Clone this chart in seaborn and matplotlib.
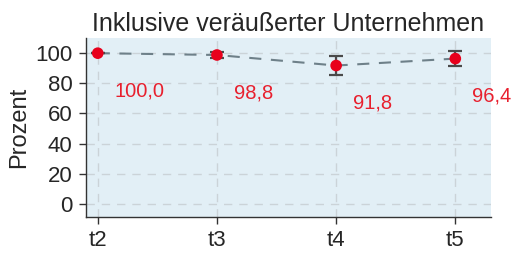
import pandas as pd
import seaborn as sns
import matplotlib.pyplot as plt

# Werte
zeitpunkte = ['t2', 't3', 't4', 't5']
prozent = [100.0, 98.8, 91.8, 96.4]
fehler = [0.0, 2.0, 6.6, 5.0]
beschriftung = ['100,0', '98,8', '91,8', '96,4']

df = pd.DataFrame({'zeit': zeitpunkte, 'prozent': prozent, 'fehler': fehler})
df['pos'] = range(len(df))

sns.set_style('ticks')
plt.rcParams['font.family'] = ['Liberation Sans', 'DejaVu Sans']

fig, ax = plt.subplots(figsize=(5.11, 2.54), dpi=100)
ax.set_facecolor('#e2eff6')

sns.lineplot(data=df, x='pos', y='prozent', ax=ax, color='#6e8089',
             linestyle=(0, (5.8, 4.6)), linewidth=1.5, zorder=2)
ax.errorbar(df['pos'], df['prozent'], yerr=df['fehler'], fmt='none',
            ecolor='#4a4a4a', elinewidth=1.6, capsize=4.8, capthick=1.6, zorder=3)
sns.scatterplot(data=df, x='pos', y='prozent', ax=ax, color='#e8001c',
                s=70, edgecolor='none', zorder=4)

# Beschriftungen unter den Punkten
for i, (v, t) in enumerate(zip(prozent, beschriftung)):
    ax.text(i + 0.14, v - 25, t, color='#e8202e', fontsize=14.5,
            ha='left', va='center', clip_on=False)

ax.set_xticks(df['pos'])
ax.set_xticklabels(zeitpunkte)
ax.set_yticks([0, 20, 40, 60, 80, 100])
ax.set_xlim(-0.1, 3.3)
ax.set_ylim(-8.6, 110)
ax.grid(True, color='#cbd3d8', linestyle=(0, (6, 5)), linewidth=1.0)
ax.set_axisbelow(True)
ax.tick_params(labelsize=16, length=5, width=1.0, color='#333333', pad=4.5)
ax.set_xlabel('')
ax.set_ylabel('Prozent', fontsize=17, labelpad=4)
ax.set_title('Inklusive veräußerter Unternehmen', fontsize=18, pad=5)
for s in ['top', 'right']:
    ax.spines[s].set_visible(False)
for s in ['left', 'bottom']:
    ax.spines[s].set_color('#333333')
    ax.spines[s].set_linewidth(1.0)

plt.subplots_adjust(left=0.168, right=0.961, top=0.85, bottom=0.146)
plt.savefig('out.png', dpi=100)
